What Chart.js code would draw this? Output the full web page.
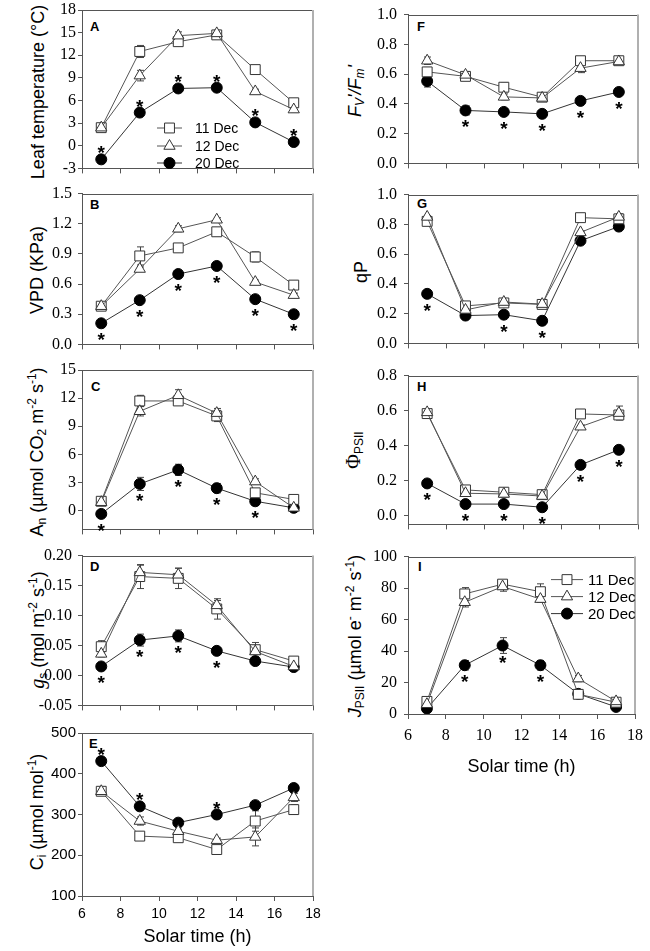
<!DOCTYPE html>
<html>
<head>
<meta charset="utf-8">
<script src="https://cdn.jsdelivr.net/npm/chart.js@4.4.1/dist/chart.umd.min.js"></script>
<style>
  html,body{margin:0;padding:0;background:#fff;}
  body{width:650px;height:951px;position:relative;overflow:hidden;font-family:"Liberation Sans",Arial,sans-serif;color:#000;}
  canvas{position:absolute;}
  .yt{position:absolute;transform:translate(-50%,-50%) rotate(-90deg);font-size:18px;white-space:nowrap;line-height:1;}
  .yt sub,.yt sup{font-size:12px;line-height:0;}
  .yt sub{vertical-align:-0.25em;}
  .yt sup{vertical-align:0.55em;}
  .lt{position:absolute;font-weight:bold;font-size:13px;line-height:13px;}
</style>
</head>
<body>
<div class="yt" style="left:38px;top:92px">Leaf temperature (°C)</div>
<div class="yt" style="left:37px;top:270px">VPD (KPa)</div>
<div class="yt" style="left:37px;top:452px">A<sub>n</sub> (µmol CO<sub>2</sub> m<sup>-2</sup> s<sup>-1</sup>)</div>
<div class="yt" style="left:37px;top:630px"><i style="font-family:'Liberation Serif';font-size:20px">g</i><sub>s</sub> (mol m<sup>-2</sup> s<sup>-1</sup>)</div>
<div class="yt" style="left:37px;top:812px">C<sub>i</sub> (µmol mol<sup>-1</sup>)</div>
<div class="yt" style="left:355px;top:91px"><i>F<sub>V</sub>'/F<sub>m</sub>'</i></div>
<div class="yt" style="left:361px;top:272px">qP</div>
<div class="yt" style="left:353px;top:450px"><span style="font-family:'Liberation Serif';font-size:20px">Φ</span><sub>PSII</sub></div>
<div class="yt" style="left:355px;top:636px"><i>J</i><sub>PSII</sub> (µmol e<sup>-</sup> m<sup>-2</sup> s<sup>-1</sup>)</div>

<div class="lt" style="left:90px;top:20px">A</div>
<div class="lt" style="left:90px;top:198px">B</div>
<div class="lt" style="left:91px;top:380px">C</div>
<div class="lt" style="left:90px;top:560px">D</div>
<div class="lt" style="left:89px;top:737px">E</div>
<div class="lt" style="left:417px;top:20px">F</div>
<div class="lt" style="left:417px;top:197px">G</div>
<div class="lt" style="left:417px;top:380px">H</div>
<div class="lt" style="left:418px;top:560px">I</div>

<script>
// ---------------- DATA ----------------
const solarTime = [7, 9, 11, 13, 15, 17];
const xTickValues = [6, 8, 10, 12, 14, 16, 18];
const seriesNames = ['11 Dec', '12 Dec', '20 Dec'];

// A: leaf temperature (°C)
const leafT_11 = [2.4, 12.5, 13.8, 14.7, 10.1, 5.7];
const leafT_12 = [2.4, 9.3, 14.6, 14.9, 7.2, 4.8];
const leafT_20 = [-1.8, 4.4, 7.6, 7.7, 3.1, 0.5];
const leafTErr_11 = [0.2, 0.8, 0.3, 0.3, 0.3, 0.3];
const leafTErr_12 = [0.2, 0.7, 0.5, 0.4, 0.3, 0.3];
const leafTErr_20 = [0.2, 0.3, 0.3, 0.3, 0.3, 0.3];
const leafTStars = [1, 1, 1, 1, 1, 1];
const leafTTicks = [-3, 0, 3, 6, 9, 12, 15, 18];

// B: VPD (KPa)
const vpd_11 = [0.38, 0.88, 0.96, 1.12, 0.87, 0.59];
const vpd_12 = [0.38, 0.75, 1.15, 1.24, 0.62, 0.49];
const vpd_20 = [0.21, 0.44, 0.70, 0.78, 0.45, 0.30];
const vpdErr_11 = [0.02, 0.09, 0.02, 0.04, 0.05, 0.02];
const vpdErr_12 = [0.02, 0.02, 0.03, 0.02, 0.02, 0.02];
const vpdErr_20 = [0.01, 0.01, 0.01, 0.01, 0.01, 0.01];
const vpdStars = [-1, -1, -1, -1, -1, -1];
const vpdTicks = [0, 0.3, 0.6, 0.9, 1.2, 1.5];

// C: An
const an_11 = [1.0, 11.7, 11.7, 10.1, 1.9, 1.2];
const an_12 = [0.9, 10.6, 12.3, 10.4, 3.1, 0.3];
const an_20 = [-0.35, 2.85, 4.35, 2.4, 1.0, 0.3];
const anErr_11 = [0.2, 0.6, 0.4, 0.6, 0.3, 0.2];
const anErr_12 = [0.2, 0.5, 0.6, 0.5, 0.3, 0.1];
const anErr_20 = [0.2, 0.7, 0.6, 0.5, 0.2, 0.2];
const anStars = [-1, -1, -1, -1, -1, 0];
const anTicks = [0, 3, 6, 9, 12, 15];

// D: gs
const gs_11 = [0.048, 0.165, 0.162, 0.111, 0.043, 0.024];
const gs_12 = [0.036, 0.172, 0.168, 0.117, 0.040, 0.015];
const gs_20 = [0.015, 0.059, 0.066, 0.041, 0.024, 0.014];
const gsErr_11 = [0.010, 0.020, 0.017, 0.017, 0.012, 0.004];
const gsErr_12 = [0.005, 0.012, 0.011, 0.008, 0.005, 0.003];
const gsErr_20 = [0.004, 0.010, 0.010, 0.005, 0.003, 0.003];
const gsStars = [-1, -1, -1, -1, 0, 0];
const gsTicks = [-0.05, 0, 0.05, 0.10, 0.15, 0.20];

// E: Ci
const ci_11 = [357, 247, 243, 214, 284, 312];
const ci_12 = [357, 284, 259, 237, 245, 342];
const ci_20 = [431, 320, 280, 300, 323, 365];
const ciErr_11 = [5, 5, 8, 10, 25, 12];
const ciErr_12 = [5, 10, 5, 5, 22, 10];
const ciErr_20 = [5, 8, 5, 10, 8, 5];
const ciStars = [1, 1, 0, 1, 0, 0];
const ciTicks = [100, 200, 300, 400, 500];

// F: Fv'/Fm'
const fvfm_11 = [0.615, 0.585, 0.512, 0.445, 0.690, 0.690];
const fvfm_12 = [0.690, 0.595, 0.447, 0.440, 0.640, 0.685];
const fvfm_20 = [0.553, 0.356, 0.346, 0.333, 0.420, 0.480];
const fvfmErr_11 = [0.03, 0.02, 0.03, 0.01, 0.01, 0.01];
const fvfmErr_12 = [0.025, 0.02, 0.02, 0.01, 0.03, 0.015];
const fvfmErr_20 = [0.04, 0.03, 0.01, 0.01, 0.01, 0.01];
const fvfmStars = [0, -1, -1, -1, -1, -1];
const fvfmTicks = [0, 0.2, 0.4, 0.6, 0.8, 1.0];

// G: qP
const qp_11 = [0.82, 0.252, 0.272, 0.262, 0.845, 0.837];
const qp_12 = [0.85, 0.225, 0.278, 0.264, 0.746, 0.850];
const qp_20 = [0.333, 0.187, 0.193, 0.152, 0.690, 0.785];
const qpErr_11 = [0.01, 0.01, 0.01, 0.01, 0.01, 0.02];
const qpErr_12 = [0.01, 0.01, 0.01, 0.01, 0.01, 0.02];
const qpErr_20 = [0.01, 0.01, 0.01, 0.01, 0.01, 0.01];
const qpStars = [-1, 0, -1, -1, 0, 0];
const qpTicks = [0, 0.2, 0.4, 0.6, 0.8, 1.0];

// H: ΦPSII
const phi_11 = [0.583, 0.147, 0.134, 0.120, 0.581, 0.575];
const phi_12 = [0.590, 0.128, 0.124, 0.112, 0.508, 0.586];
const phi_20 = [0.184, 0.066, 0.066, 0.048, 0.290, 0.376];
const phiErr_11 = [0.01, 0.01, 0.01, 0.01, 0.01, 0.02];
const phiErr_12 = [0.01, 0.01, 0.01, 0.01, 0.01, 0.04];
const phiErr_20 = [0.01, 0.005, 0.005, 0.005, 0.01, 0.01];
const phiStars = [-1, -1, -1, -1, -1, -1];
const phiTicks = [0, 0.2, 0.4, 0.6, 0.8];

// I: JPSII
const j_11 = [8, 76.3, 82.5, 77.7, 12.5, 7.5];
const j_12 = [6.2, 71, 81, 73, 22.5, 8];
const j_20 = [3.5, 31, 43.5, 31, 12.8, 4.5];
const jErr_11 = [2, 4, 2, 5, 2, 1];
const jErr_12 = [2, 3, 3, 2, 2, 1];
const jErr_20 = [1, 3, 5, 3, 2, 1];
const jStars = [0, -1, -1, -1, 0, 0];
const jTicks = [0, 20, 40, 60, 80, 100];

// ---------------- PLUGINS ----------------
const framePlugin = {
  id: 'frame',
  beforeDatasetsDraw(chart) {
    const {ctx, chartArea: a} = chart;
    ctx.save();
    ctx.strokeStyle = '#555'; ctx.lineWidth = 1;
    ctx.beginPath(); ctx.moveTo(a.left, Math.round(a.top) + 0.5); ctx.lineTo(a.right, Math.round(a.top) + 0.5); ctx.stroke();
    ctx.strokeStyle = '#b0b0b0'; ctx.lineWidth = 2;
    ctx.beginPath(); ctx.moveTo(Math.round(a.right), a.top); ctx.lineTo(Math.round(a.right), a.bottom); ctx.stroke();
    ctx.restore();
  }
};

const errPlugin = {
  id: 'errbars',
  beforeDatasetsDraw(chart) {
    const {ctx, scales: {x, y}} = chart;
    ctx.save();
    ctx.strokeStyle = '#444'; ctx.lineWidth = 1;
    chart.data.datasets.forEach(ds => {
      if (!ds.errors) return;
      ds.data.forEach((p, i) => {
        const e = ds.errors[i];
        if (!e) return;
        const px = Math.round(x.getPixelForValue(p.x)) + 0.5;
        const y1 = y.getPixelForValue(p.y + e), y2 = y.getPixelForValue(p.y - e);
        ctx.beginPath();
        ctx.moveTo(px, y1); ctx.lineTo(px, y2);
        ctx.moveTo(px - 3.5, y1); ctx.lineTo(px + 3.5, y1);
        ctx.moveTo(px - 3.5, y2); ctx.lineTo(px + 3.5, y2);
        ctx.stroke();
      });
    });
    ctx.restore();
  }
};

const starPlugin = {
  id: 'stars',
  afterDatasetsDraw(chart) {
    const {ctx, scales: {x, y}} = chart;
    ctx.save();
    ctx.font = 'bold 19px "Liberation Sans", Arial, sans-serif';
    ctx.fillStyle = '#000';
    ctx.textAlign = 'center';
    ctx.textBaseline = 'alphabetic';
    chart.data.datasets.forEach(ds => {
      if (!ds.stars) return;
      ds.data.forEach((p, i) => {
        const s = ds.stars[i];
        if (!s) return;
        const px = x.getPixelForValue(p.x), py = y.getPixelForValue(p.y);
        const cy = s > 0 ? py - 11 : py + 12;
        ctx.fillText('*', px, cy + 11);
      });
    });
    ctx.restore();
  }
};

function drawMarker(ctx, style, r, cx, cy) {
  if (Chart.helpers && Chart.helpers.drawPoint) {
    Chart.helpers.drawPoint(ctx, {pointStyle: style, radius: r, rotation: 0, borderWidth: 1}, cx, cy);
    return;
  }
  ctx.beginPath();
  if (style === 'circle') ctx.arc(cx, cy, r, 0, Math.PI * 2);
  else if (style === 'rect') { const s = r * Math.SQRT1_2; ctx.rect(cx - s, cy - s, 2 * s, 2 * s); }
  else { ctx.moveTo(cx, cy - r); ctx.lineTo(cx + r * 0.866, cy + r / 2); ctx.lineTo(cx - r * 0.866, cy + r / 2); ctx.closePath(); }
  ctx.fill(); ctx.stroke();
}

const legendPlugin = {
  id: 'dateLegend',
  afterDraw(chart, args, o) {
    if (!o || !o.show) return;
    const {ctx, chartArea: a} = chart;
    ctx.save();
    chart.data.datasets.forEach((ds, i) => {
      const yy = a.top + o.rows[i];
      const x0 = a.left + o.dx;
      ctx.strokeStyle = ds.borderColor; ctx.lineWidth = 1;
      ctx.beginPath(); ctx.moveTo(x0, yy); ctx.lineTo(x0 + o.len, yy); ctx.stroke();
      ctx.fillStyle = ds.pointBackgroundColor; ctx.strokeStyle = ds.pointBorderColor; ctx.lineWidth = 1;
      drawMarker(ctx, ds.pointStyle, ds.pointRadius, x0 + o.len / 2, yy);
      ctx.fillStyle = '#000';
      ctx.font = o.fontSize + 'px "Liberation Sans", Arial, sans-serif';
      ctx.textAlign = 'left'; ctx.textBaseline = 'middle';
      ctx.fillText(ds.label, a.left + o.tx, yy + 1);
    });
    ctx.restore();
  }
};

// ---------------- PANELS ----------------
const serifTick = {family: '"Liberation Serif", "Times New Roman", serif', size: 16};
const sansTick = {family: '"Liberation Sans", Arial, sans-serif', size: 15};

const panels = [
  {col: 'L', top: 10, bottom: 174, min: -3, max: 18, ticks: leafTTicks, dec: 0, pad: 2, s: [leafT_11, leafT_12, leafT_20], e: [leafTErr_11, leafTErr_12, leafTErr_20], stars: leafTStars,
   legend: {show: true, dx: 75, len: 25, tx: 113, rows: [118, 136, 153], fontSize: 14}},
  {col: 'L', top: 190, bottom: 354, min: 0, max: 1.5, ticks: vpdTicks, dec: 1, pad: 6, s: [vpd_11, vpd_12, vpd_20], e: [vpdErr_11, vpdErr_12, vpdErr_20], stars: vpdStars},
  {col: 'L', top: 370, bottom: 535, min: -2, max: 15, ticks: anTicks, dec: 0, pad: 2, s: [an_11, an_12, an_20], e: [anErr_11, anErr_12, anErr_20], stars: anStars},
  {col: 'L', top: 552, bottom: 715, min: -0.05, max: 0.2, ticks: gsTicks, dec: 2, pad: 6, s: [gs_11, gs_12, gs_20], e: [gsErr_11, gsErr_12, gsErr_20], stars: gsStars},
  {col: 'L', top: 733, bottom: 896, min: 100, max: 500, ticks: ciTicks, dec: 0, pad: 2, s: [ci_11, ci_12, ci_20], e: [ciErr_11, ciErr_12, ciErr_20], stars: ciStars,
   yFont: sansTick, xLabels: true, xFont: {family: '"Liberation Sans", Arial, sans-serif', size: 14}, xPad: 5, canvasBottom: 951, titlePad: 3},
  {col: 'R', top: 10, bottom: 174, min: 0, max: 1.0, ticks: fvfmTicks, dec: 1, pad: 7, s: [fvfm_11, fvfm_12, fvfm_20], e: [fvfmErr_11, fvfmErr_12, fvfmErr_20], stars: fvfmStars},
  {col: 'R', top: 190, bottom: 354, min: 0, max: 1.0, ticks: qpTicks, dec: 1, pad: 7, s: [qp_11, qp_12, qp_20], e: [qpErr_11, qpErr_12, qpErr_20], stars: qpStars},
  {col: 'R', top: 371, bottom: 535, min: -0.05, max: 0.8, ticks: phiTicks, dec: 1, pad: 7, s: [phi_11, phi_12, phi_20], e: [phiErr_11, phiErr_12, phiErr_20], stars: phiStars},
  {col: 'R', top: 552, bottom: 714, min: 0, max: 100, ticks: jTicks, dec: 0, pad: 7, s: [j_11, j_12, j_20], e: [jErr_11, jErr_12, jErr_20], stars: jStars,
   xLabels: true, xFont: serifTick, xPad: 7, canvasBottom: 790, titlePad: 12,
   legend: {show: true, dx: 143, len: 32, tx: 180, rows: [23, 40, 57], fontSize: 15}}
];

const seriesStyle = [
  {pointStyle: 'rect', pointRadius: 7, bg: '#fff', bd: '#333', line: '#555'},
  {pointStyle: 'triangle', pointRadius: 6.5, bg: '#fff', bd: '#333', line: '#555'},
  {pointStyle: 'circle', pointRadius: 5.5, bg: '#000', bd: '#000', line: '#333'}
];

panels.forEach(p => {
  const isL = p.col === 'L';
  const cLeft = isL ? 0 : 325;
  const cWidth = isL ? 330 : 325;
  const yW = isL ? 82 : 83;
  const padR = isL ? 17 : 12;
  const cTop = p.top - 12;
  const xH = p.xLabels ? (p.canvasBottom - p.bottom) : 6;
  const cBottom = p.xLabels ? p.canvasBottom : p.bottom + 6;
  const cHeight = cBottom - cTop;

  const cv = document.createElement('canvas');
  cv.width = cWidth; cv.height = cHeight;
  cv.style.left = cLeft + 'px'; cv.style.top = cTop + 'px';
  cv.style.width = cWidth + 'px'; cv.style.height = cHeight + 'px';
  document.body.appendChild(cv);

  const datasets = p.s.map((vals, k) => ({
    label: seriesNames[k],
    data: solarTime.map((x, i) => ({x: x, y: vals[i]})),
    showLine: true,
    borderColor: seriesStyle[k].line,
    borderWidth: 1,
    pointStyle: seriesStyle[k].pointStyle,
    pointRadius: seriesStyle[k].pointRadius,
    pointHoverRadius: seriesStyle[k].pointRadius,
    pointBackgroundColor: seriesStyle[k].bg,
    pointBorderColor: seriesStyle[k].bd,
    pointBorderWidth: 1,
    errors: p.e[k],
    stars: k === 2 ? p.stars : null,
    order: k === 2 ? 2 : (k === 0 ? 1 : 0)
  }));

  new Chart(cv, {
    type: 'scatter',
    data: {datasets},
    plugins: [framePlugin, errPlugin, starPlugin, legendPlugin],
    options: {
      responsive: false,
      animation: false,
      devicePixelRatio: 1,
      layout: {padding: {left: 0, right: padR, top: 12, bottom: 0}},
      plugins: {
        legend: {display: false},
        tooltip: {enabled: false},
        dateLegend: p.legend || {show: false}
      },
      scales: {
        x: {
          type: 'linear', min: 6, max: 18,
          afterBuildTicks: s => { s.ticks = xTickValues.map(v => ({value: v})); },
          afterFit: s => { s.height = xH; },
          grid: {drawOnChartArea: false, drawTicks: true, tickLength: 5, color: '#555'},
          border: {color: '#555', width: 1},
          ticks: {display: !!p.xLabels, font: p.xFont || serifTick, color: '#000', padding: p.xPad || 3, maxRotation: 0, autoSkip: false},
          title: {display: !!p.xLabels, text: 'Solar time (h)', color: '#000',
                  font: {family: '"Liberation Sans", Arial, sans-serif', size: 18},
                  padding: {top: 0, bottom: p.titlePad || 0}}
        },
        y: {
          type: 'linear', min: p.min, max: p.max,
          afterBuildTicks: s => { s.ticks = p.ticks.map(v => ({value: v})); },
          afterFit: s => { s.width = yW; },
          grid: {drawOnChartArea: false, drawTicks: true, tickLength: 4, color: '#555'},
          border: {color: '#555', width: 1},
          ticks: {font: p.yFont || serifTick, color: '#000', padding: p.pad, autoSkip: false,
                  callback: v => Number(v).toFixed(p.dec)}
        }
      }
    }
  });
});
</script>
</body>
</html>
